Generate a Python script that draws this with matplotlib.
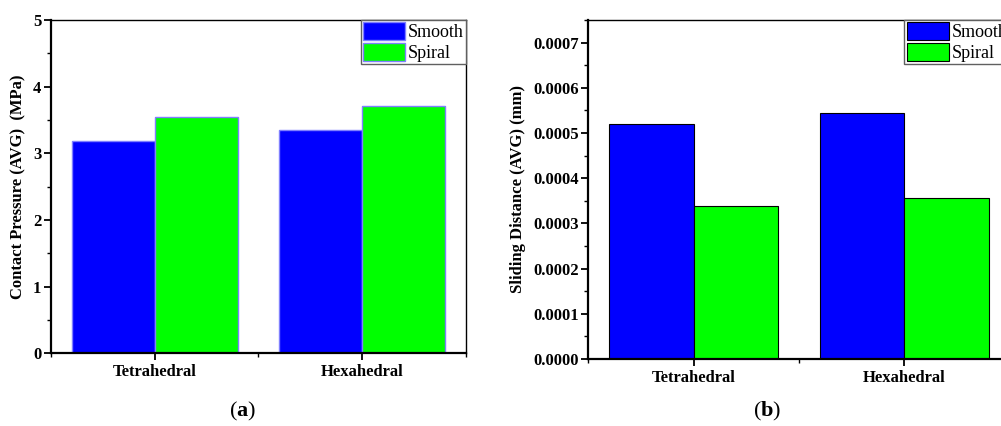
import matplotlib
matplotlib.use("Agg")
import matplotlib.pyplot as plt
from matplotlib.ticker import MultipleLocator
import numpy as np

plt.rcParams['font.family'] = ['Liberation Serif', 'DejaVu Serif']
plt.rcParams['mathtext.fontset'] = 'custom'
plt.rcParams['mathtext.bf'] = 'Liberation Serif:bold'

categories = ["Tetrahedral", "Hexahedral"]
series_names = ["Smooth", "Spiral"]
pressure_smooth = [3.19, 3.35]
pressure_spiral = [3.55, 3.71]
sliding_smooth = [0.000519, 0.000545]
sliding_spiral = [0.000338, 0.000356]

BLUE = "#0000ff"
GREEN = "#00ff00"

fig = plt.figure(figsize=(10.01, 4.26), dpi=100)
ax_a = fig.add_axes([0.0509, 0.1706, 0.4146, 0.7825])
ax_b = fig.add_axes([0.5877, 0.1573, 0.4210, 0.7958])

x = np.arange(1, len(categories) + 1)
w = 0.4


def style_axes(ax, ymax, major, minor, fmt):
    ax.set_xlim(0.5, 2.5)
    ax.set_ylim(0, ymax)
    ax.set_xticks(x)
    ax.set_xticklabels(categories, fontsize=12, fontweight='bold')
    ax.xaxis.set_minor_locator(MultipleLocator(0.5))
    ax.yaxis.set_major_locator(MultipleLocator(major))
    ax.yaxis.set_minor_locator(MultipleLocator(minor))
    ax.yaxis.set_major_formatter(fmt)
    for lab in ax.get_yticklabels():
        lab.set_fontweight('bold')
        lab.set_fontsize(12)
    ax.tick_params(axis='both', which='major', direction='out', length=5, width=1.3, pad=2)
    ax.tick_params(axis='both', which='minor', direction='out', length=3, width=1.0)
    ax.tick_params(axis='x', which='major', pad=3)
    ax.spines['left'].set_linewidth(1.6)
    ax.spines['bottom'].set_linewidth(1.6)
    ax.spines['top'].set_linewidth(1.0)
    ax.spines['right'].set_linewidth(1.0)


def add_legend(ax):
    leg = ax.legend(loc='upper right', borderaxespad=0, fontsize=13, handlelength=2.35,
                    handleheight=1.15, labelspacing=0.08, borderpad=0.12,
                    handletextpad=0.15, fancybox=False, framealpha=1,
                    edgecolor='#606060')
    leg.get_frame().set_linewidth(1.0)
    return leg


# (a) contact pressure
ax_a.bar(x - w / 2, pressure_smooth, w, color=BLUE, edgecolor="#7f7fff",
         linewidth=1.0, label=series_names[0], zorder=2)
ax_a.bar(x + w / 2, pressure_spiral, w, color=GREEN, edgecolor="#7f7fff",
         linewidth=1.0, label=series_names[1], zorder=2)
style_axes(ax_a, 5, 1, 0.5, plt.FormatStrFormatter('%d'))
ax_a.set_ylabel("Contact Pressure (AVG)  (MPa)", fontsize=12, fontweight='bold', labelpad=5)
leg_a = add_legend(ax_a)
for p in leg_a.get_patches():
    p.set_edgecolor("#7f7fff")

# (b) sliding distance
ax_b.bar(x - w / 2, sliding_smooth, w, color=BLUE, edgecolor="black",
         linewidth=0.8, label=series_names[0], zorder=2)
ax_b.bar(x + w / 2, sliding_spiral, w, color=GREEN, edgecolor="black",
         linewidth=0.8, label=series_names[1], zorder=2)
style_axes(ax_b, 0.00075, 0.0001, 0.00005, plt.FormatStrFormatter('%.4f'))
ax_b.set_ylabel("Sliding Distance (AVG) (mm)", fontsize=12, fontweight='bold', labelpad=5)
add_legend(ax_b)

fig.text(0.2427, 0.033, r"($\mathbf{a}$)", fontsize=16, ha='center', va='center')
fig.text(0.7665, 0.033, r"($\mathbf{b}$)", fontsize=16, ha='center', va='center')

fig.savefig("out.png", dpi=100)
